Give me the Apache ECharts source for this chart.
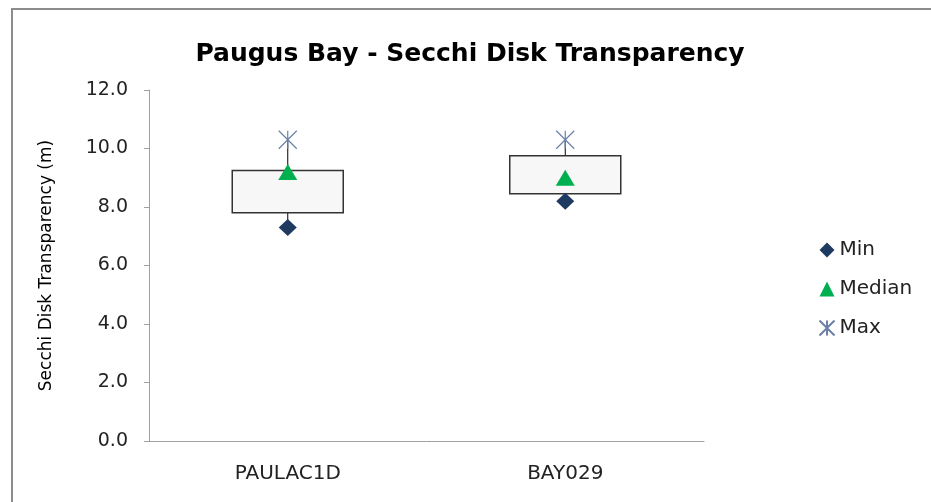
<!DOCTYPE html>
<html>
<head>
<meta charset="utf-8">
<title>Paugus Bay - Secchi Disk Transparency</title>
<script src="https://cdn.jsdelivr.net/npm/echarts@6/dist/echarts.min.js"></script>
<style>
html, body { margin: 0; padding: 0; background: #fff; }
#chart { width: 931px; height: 502px; }
</style>
</head>
<body>
<div id="chart"></div>
<script>
// 站点和数值
var sites = ['PAULAC1D', 'BAY029'];
var minVals = [7.3, 8.2];
var q1Vals = [7.8, 8.45];
var medianVals = [9.2, 9.0];
var q3Vals = [9.25, 9.75];
var maxVals = [10.3, 10.3];
var yTicks = [0, 2, 4, 6, 8, 10, 12];

var font = 'DejaVu Sans';
var starPath = 'path://M0,0L10,10M10,0L0,10M5,0L5,10';

// box data: [index, q1, q3, min, max]
var boxData = [];
for (var i = 0; i < sites.length; i++) {
	boxData.push([i, q1Vals[i], q3Vals[i], minVals[i], maxVals[i]]);
}

function renderBox(params, api) {
	var x = api.value(0);
	var lo = api.coord([x, api.value(1)]);
	var hi = api.coord([x, api.value(2)]);
	var mn = api.coord([x, api.value(3)]);
	var mx = api.coord([x, api.value(4)]);
	var w = api.size([1, 0])[0] * 0.4;
	return {
		type : 'group',
		children : [ {
			type : 'line',
			shape : { x1 : mx[0], y1 : mx[1], x2 : mx[0], y2 : hi[1] },
			style : { stroke : '#000', lineWidth : 1 }
		}, {
			type : 'line',
			shape : { x1 : mn[0], y1 : lo[1], x2 : mn[0], y2 : mn[1] },
			style : { stroke : '#000', lineWidth : 1 }
		}, {
			type : 'rect',
			shape : { x : hi[0] - w / 2, y : hi[1], width : w, height : lo[1] - hi[1] },
			style : { fill : '#f7f7f7', stroke : '#333', lineWidth : 1.5 }
		} ]
	};
}

var chart = echarts.init(document.getElementById('chart'));
chart.setOption({
	animation : false,
	backgroundColor : '#fff',
	textStyle : { fontFamily : font },
	graphic : [ {
		type : 'rect',
		shape : { x : 12, y : 9, width : 950, height : 520 },
		style : { fill : 'none', stroke : '#8c8c8c', lineWidth : 2 },
		silent : true
	} ],
	title : {
		text : 'Paugus Bay - Secchi Disk Transparency',
		left : 465,
		top : 37,
		textAlign : 'center',
		textStyle : { fontFamily : font, fontSize : 25, fontWeight : 'bold', color : '#000' }
	},
	legend : {
		orient : 'vertical',
		left : 812,
		top : 235,
		itemGap : 19,
		itemWidth : 15,
		itemHeight : 15,
		itemStyle : {},
		data : [ 'Min', 'Median', 'Max' ],
		textStyle : { fontFamily : font, fontSize : 20, color : '#222' }
	},
	grid : { left : 149, right : 227, top : 90, bottom : 61 },
	xAxis : {
		type : 'category',
		data : sites,
		axisLine : { lineStyle : { color : '#a0a0a0' } },
		axisTick : { length : 6, lineStyle : { color : '#a0a0a0' } },
		axisLabel : { fontSize : 20, color : '#222', margin : 23 }
	},
	yAxis : {
		type : 'value',
		name : 'Secchi Disk Transparency (m)',
		nameLocation : 'middle',
		nameGap : 94,
		nameTextStyle : { fontFamily : font, fontSize : 17, color : '#000' },
		min : 0,
		max : 12,
		interval : 2,
		axisLine : { show : true, lineStyle : { color : '#a0a0a0' } },
		axisTick : { show : true, length : 5, lineStyle : { color : '#a0a0a0' } },
		splitLine : { show : false },
		axisLabel : {
			fontSize : 19,
			color : '#222',
			margin : 21,
			formatter : function(v) { return v.toFixed(1); }
		}
	},
	series : [ {
		name : 'box',
		type : 'custom',
		renderItem : renderBox,
		data : boxData,
		z : 1
	}, {
		name : 'Min',
		type : 'scatter',
		symbol : 'diamond',
		symbolSize : [18, 17],
		itemStyle : { color : '#1f3a60', opacity : 1 },
		data : minVals,
		z : 3
	}, {
		name : 'Median',
		type : 'scatter',
		symbol : 'triangle',
		symbolSize : [19, 16],
		itemStyle : { color : '#00b050', opacity : 1 },
		data : medianVals,
		z : 3
	}, {
		name : 'Max',
		type : 'scatter',
		symbol : starPath,
		symbolSize : [18, 18],
		itemStyle : { color : 'none', borderColor : '#6b80a8', borderWidth : 1.2, opacity : 1 },
		data : maxVals,
		z : 3
	} ]
});
</script>
</body>
</html>
